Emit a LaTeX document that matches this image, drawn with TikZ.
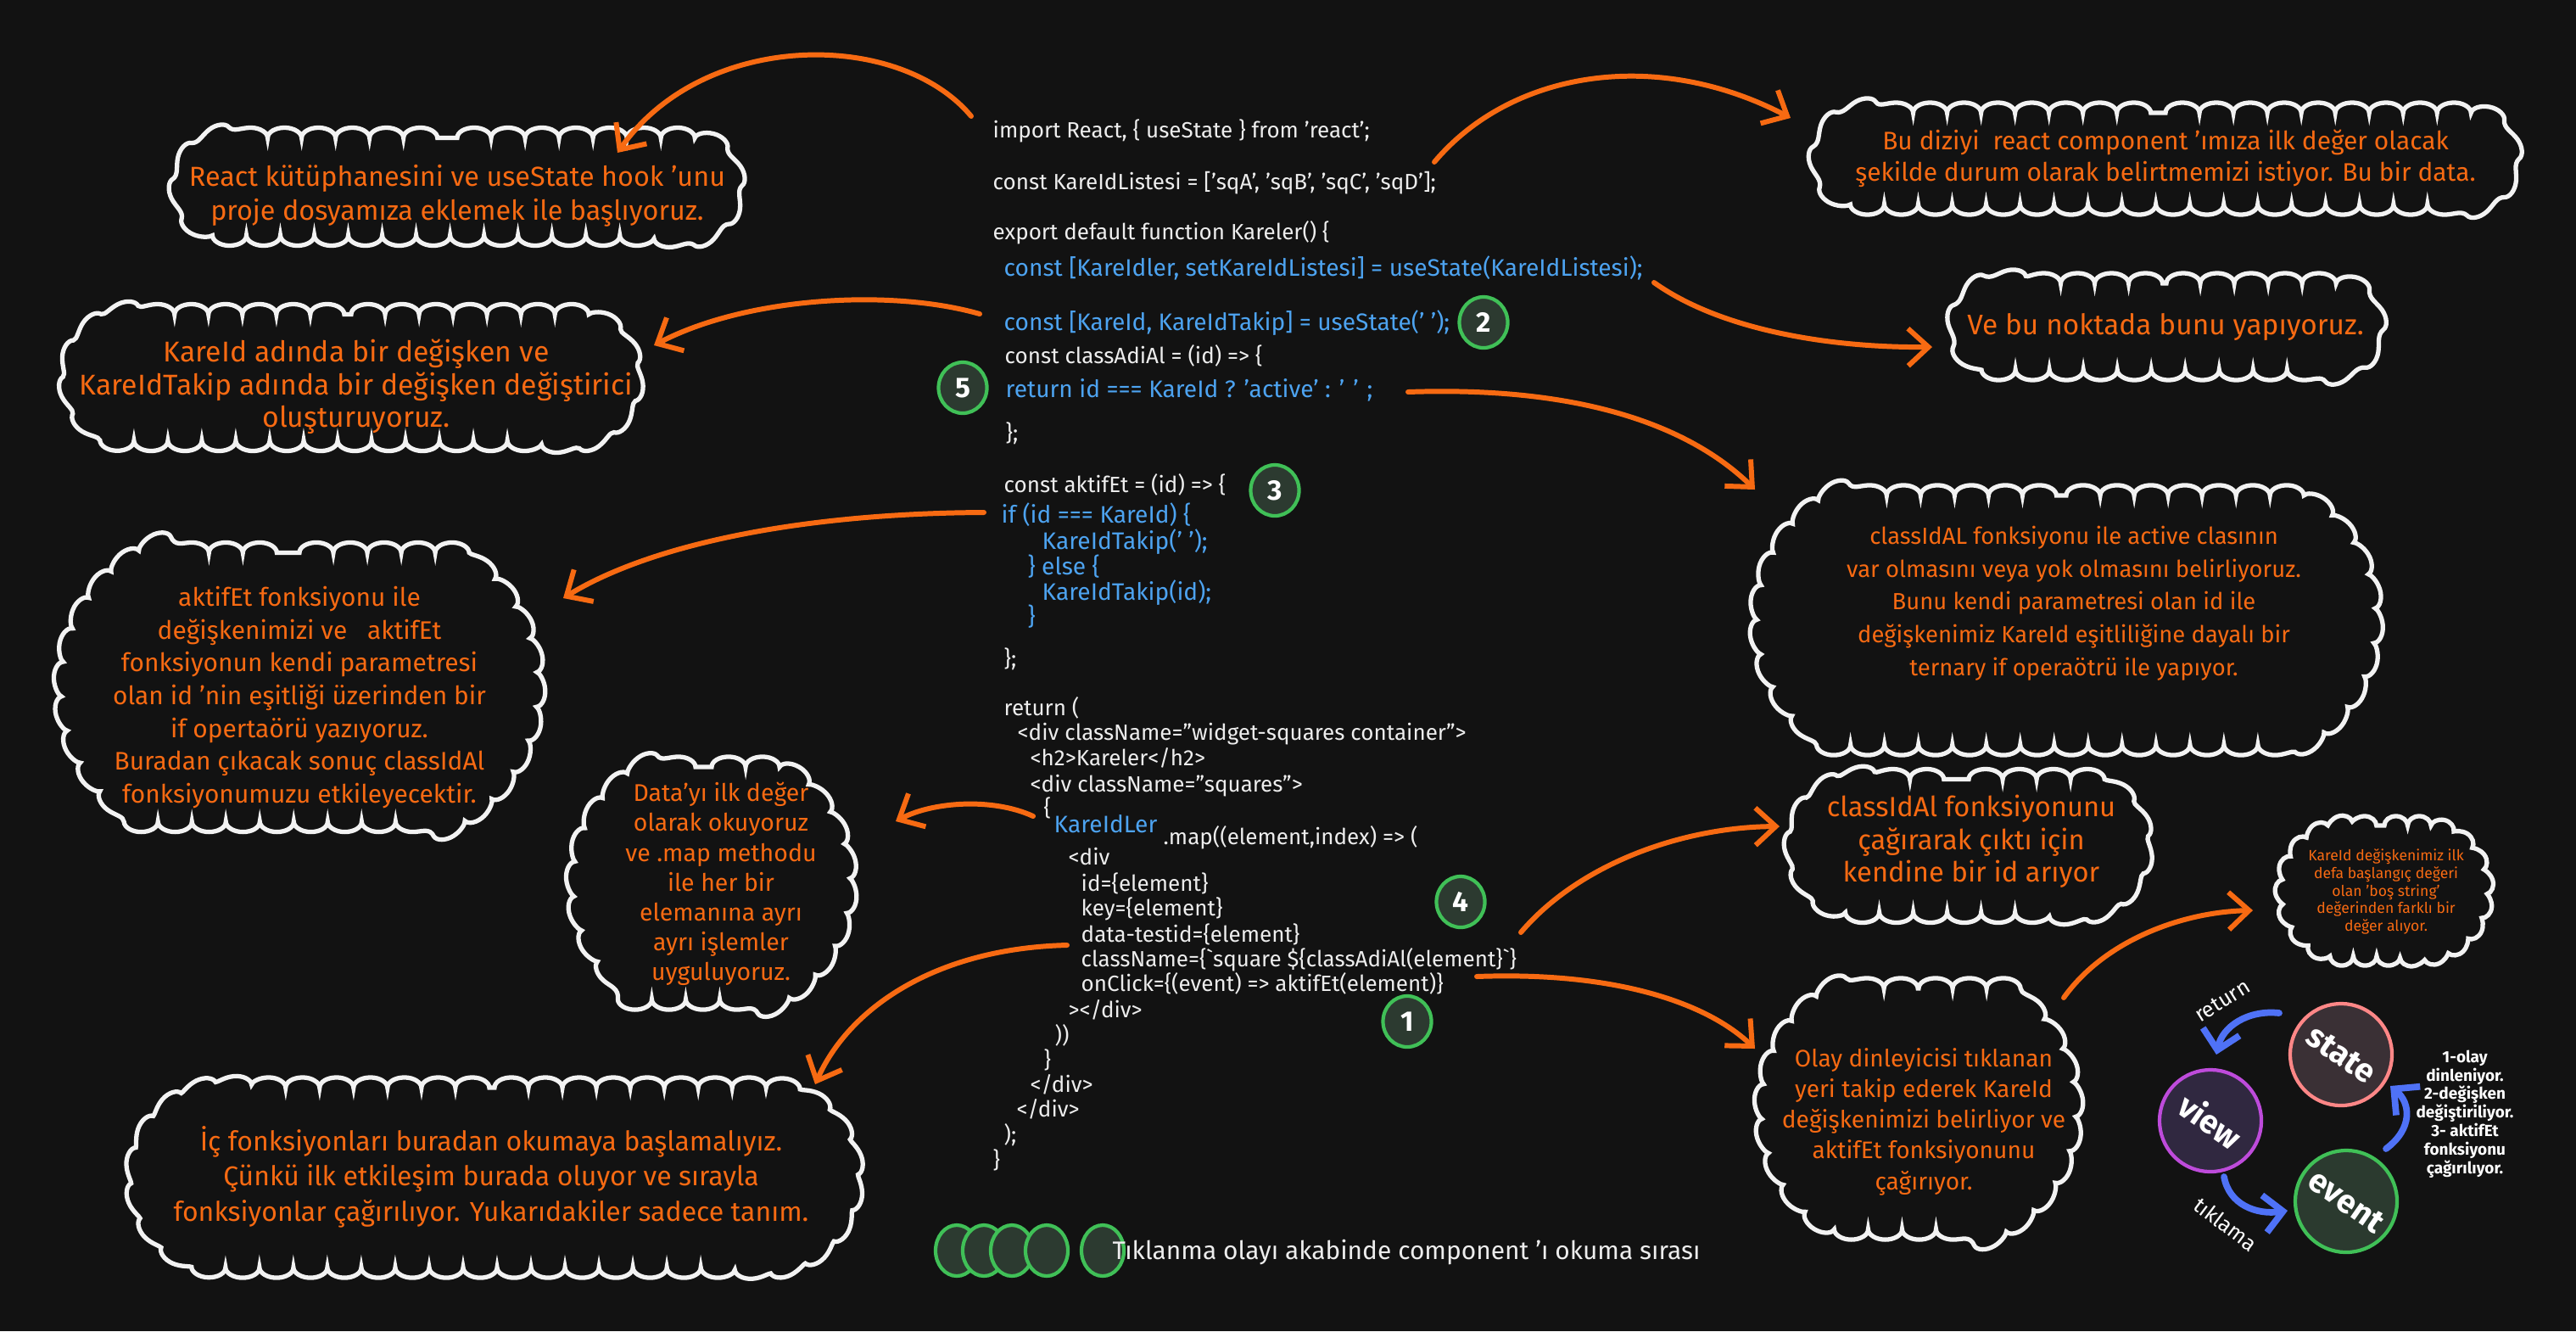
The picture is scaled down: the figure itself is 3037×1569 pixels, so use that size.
\documentclass[tikz,border=0pt]{standalone}
\usepackage{fontspec}
\setmainfont{Fira Sans}
\usetikzlibrary{shapes.geometric,shapes.misc,arrows.meta,calc,decorations.pathmorphing}

\definecolor{bgc}{HTML}{121212}
\definecolor{orangec}{HTML}{F76A12}
\definecolor{cloudc}{HTML}{F2F2F2}
\definecolor{codew}{HTML}{EDEDED}
\definecolor{codeb}{HTML}{4DA3F0}
\definecolor{numg}{HTML}{40C057}
\definecolor{numf}{HTML}{2C3A30}
\definecolor{cycb}{HTML}{4F72F7}
\definecolor{stline}{HTML}{FF8787}
\definecolor{stfill}{HTML}{3A3035}
\definecolor{vwline}{HTML}{BE4BDB}
\definecolor{vwfill}{HTML}{302840}
\definecolor{evfill}{HTML}{2B3A2F}

\begin{document}
\begin{tikzpicture}[x=0.01cm, y=-0.01cm,
  cld/.style = {rounded rectangle, draw=cloudc, line width=1.5pt, fill=bgc, inner sep=0, decorate, decoration={bumps, segment length=0.8cm, amplitude=0.12cm}},
  tall/.style = {rounded rectangle arc length=120},
  note/.style = {text=orangec, align=center, inner sep=0, font=\fontsize{9.2}{11.4}\selectfont},
  cw/.style = {anchor=west, inner sep=0, text height=5.5pt, text depth=1.5pt, text=codew, font=\fontsize{7.4}{8}\selectfont},
  cb/.style = {cw, text=codeb, font=\fontsize{8}{8.6}\selectfont},
  num/.style = {ellipse, draw=numg, line width=1.2pt, fill=numf, minimum width=0.57cm, minimum height=0.6cm, inner sep=0, text=white, font=\bfseries\fontsize{9.5}{10}\selectfont},
  lg/.style = {ellipse, draw=numg, line width=1.2pt, fill=numf, minimum width=0.5cm, minimum height=0.6cm},
  arr/.style = {draw=orangec, line width=1.7pt, line cap=round, -{Straight Barb[length=2.4mm,width=4.4mm]}},
  carr/.style = {draw=cycb, line width=2.2pt, line cap=round, -{Straight Barb[length=2.2mm,width=4.4mm]}},
  cyc/.style = {circle, line width=1.2pt, minimum size=1.2cm, inner sep=0, text=white, font=\bfseries\fontsize{11}{12}\selectfont},
  clab/.style = {text=white, inner sep=0, font=\fontsize{7.2}{8}\selectfont}
]
% background and margins
\fill[bgc] (0,0) rectangle (3037,1569);
\useasboundingbox (0,0) rectangle (3037,1569);

% clouds
\node[cld, minimum width=6.46cm, minimum height=1.15cm] (cA) at (539,220) {};
\node[cld, minimum width=8.07cm, minimum height=1.08cm] (cB) at (2553,187) {};
\node[cld, minimum width=6.59cm, minimum height=1.49cm] (cC) at (414,445) {};
\node[cld, minimum width=4.84cm, minimum height=1.02cm] (cD) at (2554,385) {};
\node[cld, tall, minimum width=5.53cm, minimum height=3.17cm] (cE) at (353,810) {};
\node[cld, tall, minimum width=7.20cm, minimum height=2.94cm] (cF) at (2436,731) {};
\node[cld, tall, minimum width=2.84cm, minimum height=2.74cm] (cG) at (839,1041) {};
\node[cld, minimum width=4.05cm, minimum height=1.57cm] (cH) at (2321,997) {};
\node[cld, minimum width=2.33cm, minimum height=1.54cm, decoration={bumps, segment length=0.55cm, amplitude=0.11cm}] (cI) at (2811,1050) {};
\node[cld, tall, minimum width=3.61cm, minimum height=2.84cm] (cJ) at (2262,1307) {};
\node[cld, minimum width=8.42cm, minimum height=2.12cm] (cK) at (583,1388) {};

\node[note] (tA) at (539,231) {React kütüphanesini ve useState hook 'unu\\proje dosyamıza eklemek ile başlıyoruz.};
\node[note, font=\fontsize{8.5}{10.6}\selectfont] (tB) at (2553,187) {Bu diziyi \ react component 'ımıza ilk değer olacak\\şekilde durum olarak belirtmemizi istiyor. Bu bir data.};
\node[note, font=\fontsize{9.6}{11}\selectfont] (tC) at (420,456) {KareId adında bir değişken ve\\KareIdTakip adında bir değişken değiştirici\\oluşturuyoruz.};
\node[note, font=\fontsize{9.5}{11}\selectfont] (tD) at (2553,386) {Ve bu noktada bunu yapıyoruz.};
\node[note, font=\fontsize{8.5}{11}\selectfont] (tE) at (353,822) {aktifEt fonksiyonu ile\\değişkenimizi ve \ \ aktifEt\\fonksiyonun kendi parametresi\\olan id 'nin eşitliği üzerinden bir\\if opertaörü yazıyoruz.\\Buradan çıkacak sonuç classIdAl\\fonksiyonumuzu etkileyecektir.};
\node[note, font=\fontsize{7.8}{11}\selectfont] (tF) at (2445,711) {classIdAL fonksiyonu ile active clasının\\var olmasını veya yok olmasını belirliyoruz.\\Bunu kendi parametresi olan id ile\\değişkenimiz KareId eşitliliğine dayalı bir\\ternary if operaötrü ile yapıyor.};
\node[note, font=\fontsize{8.1}{10}\selectfont] (tG) at (850,1042) {Data'yı ilk değer\\olarak okuyoruz\\ve .map methodu\\ile her bir\\elemanına ayrı\\ayrı işlemler\\uyguluyoruz.};
\node[note, font=\fontsize{9.3}{11}\selectfont] (tH) at (2324,992) {classIdAl fonksiyonunu\\çağırarak çıktı için\\kendine bir id arıyor};
\node[note, font=\fontsize{5}{5.9}\selectfont] (tI) at (2813,1051) {KareId değişkenimiz ilk\\defa başlangıç değeri\\olan 'boş string'\\değerinden farklı bir\\değer alıyor.};
\node[note, font=\fontsize{8}{10.3}\selectfont] (tJ) at (2268,1322) {Olay dinleyicisi tıklanan\\yeri takip ederek KareId\\değişkenimizi belirliyor ve\\aktifEt fonksiyonunu\\çağırıyor.};
\node[note, font=\fontsize{9.1}{11.8}\selectfont] (tK) at (579,1387) {İç fonksiyonları buradan okumaya başlamalıyız.\\Çünkü ilk etkileşim burada oluyor ve sırayla\\fonksiyonlar çağırılıyor. Yukarıdakiler sadece tanım.};

% code
\node[cw] (l1) at (1170,155) {import React, \{ useState \} from 'react';};
\node[cw] (l2) at (1170,216) {const KareIdListesi = ['sqA', 'sqB', 'sqC', 'sqD'];};
\node[cw] (l3) at (1170,275) {export default function Kareler() \{};
\node[cb] (l4) at (1183,318) {const [KareIdler, setKareIdListesi] = useState(KareIdListesi);};
\node[cb] (l5) at (1183,382) {const [KareId, KareIdTakip] = useState(' ');};
\node[cw] (l6) at (1184,421) {const classAdiAl = (id) => \{};
\node[cb] (l7) at (1185,461) {return id === KareId ? 'active' : ' ' ;};
\node[cw] (l8) at (1185,512) {\};};
\node[cw] (l9) at (1183,573) {const aktifEt = (id) => \{};
\node[cb] (l10) at (1180,609) {if (id === KareId) \{};
\node[cb] (l11) at (1228,640) {KareIdTakip(' ');};
\node[cb] (l12) at (1211,670) {\} else \{};
\node[cb] (l13) at (1228,700) {KareIdTakip(id);};
\node[cb] (l14) at (1211,729) {\}};
\node[cw] (l15) at (1183,778) {\};};
\node[cw] (l16) at (1183,836) {return (};
\node[cw] (l17) at (1199,865) {<div className="widget-squares container">};
\node[cw] (l18) at (1214,895) {<h2>Kareler</h2>};
\node[cw] (l19) at (1214,926) {<div className="squares">};
\node[cw] (l20) at (1230,954) {\{};
\node[cb] (l21) at (1242,974) {KareIdLer};
\node[cw] (l22) at (1371,988) {.map((element,index) => (};
\node[cw] (l23) at (1259,1012) {<div};
\node[cw] (l24) at (1274,1043) {id=\{element\}};
\node[cw] (l25) at (1274,1072) {key=\{element\}};
\node[cw] (l26) at (1274,1103) {data-testid=\{element\}};
\node[cw] (l27) at (1274,1132) {className=\{\textasciigrave square \$\{classAdiAl(element\}\textasciigrave\}};
\node[cw] (l28) at (1274,1161) {onClick=\{(event) => aktifEt(element)\}};
\node[cw] (l29) at (1259,1192) {></div>};
\node[cw] (l30) at (1243,1222) {))};
\node[cw] (l31) at (1230,1251) {\}};
\node[cw] (l32) at (1214,1280) {</div>};
\node[cw] (l33) at (1198,1309) {</div>};
\node[cw] (l34) at (1183,1339) {);};
\node[cw] (l35) at (1170,1369) {\}};

% arrows from code to notes
\draw[arr] ($(l1.west)+(-25,-18)$) .. controls (1060,35) and (830,35) .. ($(cA)+(189,-40)$);
\draw[arr] ($(l2.west)+(521,-25)$) .. controls (1780,85) and (1950,55) .. ($(cB)+(-442,-48)$);
\draw[arr] ($(l4.west)+(767,15)$) .. controls (2030,390) and (2160,410) .. ($(cD)+(-276,24)$);
\draw[arr] ($(l5.west)+(-28,-12)$) .. controls (1050,340) and (880,350) .. ($(cC)+(357,-38)$);
\draw[arr] ($(l7.west)+(475,1)$) .. controls (1860,455) and (1990,500) .. ($(cF)+(-367,-154)$);
\draw[arr] ($(l10.west)+(-20,-5)$) .. controls (950,605) and (770,640) .. ($(cE)+(311,-105)$);
\draw[arr] ($(l20.west)+(-12,8)$) .. controls (1170,940) and (1100,945) .. ($(cG)+(217,-73)$);
\draw[arr] ($(l27.west)+(-16,-18)$) .. controls (1100,1118) and (1000,1190) .. ($(cK)+(378,-110)$);
\draw[arr] ($(l26.west)+(519,-4)$) .. controls (1860,1020) and (1980,975) .. ($(cH)+(-223,-23)$);
\draw[arr] ($(l28.west)+(467,-10)$) .. controls (1900,1145) and (2010,1180) .. ($(cJ)+(-193,-71)$);
\draw[arr] ($(cJ)+(171,-131)$) .. controls (2480,1110) and (2570,1075) .. ($(cI)+(-155,23)$);

% reading order
\node[num] (n2) at (1749,380) {2};
\node[num] (n5) at (1135,457) {5};
\node[num] (n3) at (1503,578) {3};
\node[num] (n4) at (1722,1063) {4};
\node[num] (n1) at (1659,1204) {1};

% legend
\node[lg] (o1) at (1128,1474) {};
\node[lg] (o2) at (1160,1474) {};
\node[lg] (o3) at (1193,1474) {};
\node[lg] (o4) at (1234,1474) {};
\node[lg] (o5) at (1300,1474) {};
\node[anchor=west, inner sep=0, text=codew, font=\fontsize{8.5}{9}\selectfont] (lgt) at (1311,1476) {Tıklanma olayı akabinde component 'ı okuma sırası};

% state / view / event cycle
\node[cyc, draw=stline, fill=stfill, rotate=-35] (st) at (2760,1243) {state};
\node[cyc, draw=vwline, fill=vwfill, rotate=-35] (vw) at (2606,1321) {view};
\node[cyc, draw=numg, fill=evfill, rotate=-35] (ev) at (2766,1416) {event};
\draw[carr] ($(st.center)+(-73,-49)$) .. controls (2650,1190) and (2620,1210) .. ($(vw.center)+(7,-78)$);
\draw[carr] ($(vw.center)+(16,66)$) .. controls (2628,1420) and (2660,1432) .. ($(ev.center)+(-69,11)$);
\draw[carr] ($(ev.center)+(47,-62)$) .. controls (2845,1330) and (2842,1300) .. ($(st.center)+(58,37)$);
\node[clab, rotate=32] (lret) at (2620,1180) {return};
\node[clab, rotate=-37] (ltik) at (2624,1443) {tıklama};
\node[clab, align=center, font=\bfseries\fontsize{5.4}{6.2}\selectfont] (lsteps) at (2906,1313) {1-olay\\dinleniyor.\\2-değişken\\değiştiriliyor.\\3- aktifEt\\fonksiyonu\\çağırılıyor.};
\end{tikzpicture}
\end{document}
